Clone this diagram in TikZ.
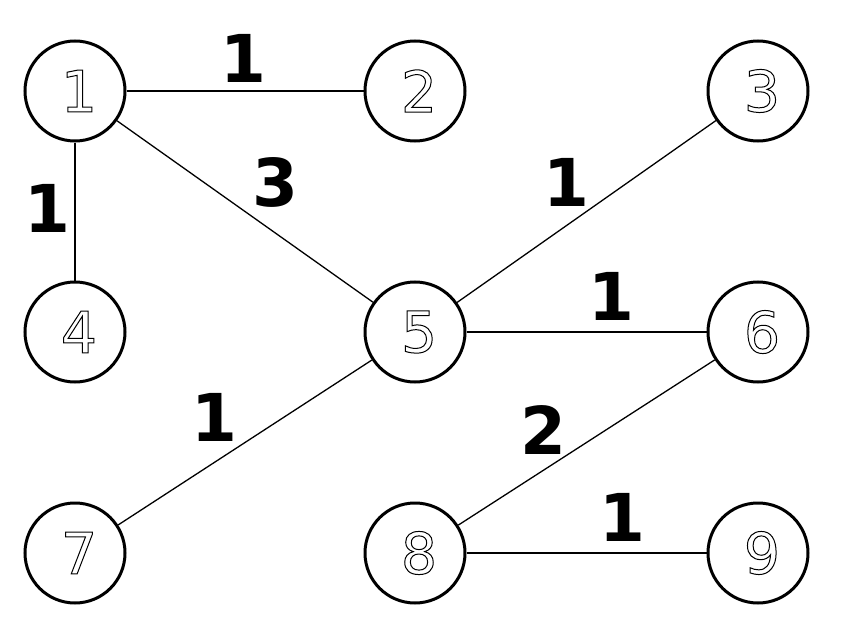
\documentclass[tikz,border=0pt]{standalone}
\usepackage{fontspec}
\setmainfont{DejaVu Sans}
\begin{document}
\begin{tikzpicture}[x=1pt,y=-1pt,
  vtx/.style={circle,draw,line width=3pt,minimum size=100pt,inner sep=0pt,fill=white,
    font=\fontsize{57}{57}\selectfont},
  edge/.style={line width=1.3pt},
  wt/.style={font=\bfseries\fontsize{66}{66}\selectfont,inner sep=0pt}]
\useasboundingbox (0,0) rectangle (844,634);
\newcommand{\olnum}[1]{\hspace*{8pt}\special{pdf:literal direct 2 Tr 1 w 1 g 0 G}#1\special{pdf:literal direct 0 Tr 0 g}}
\node[vtx] (n1) at (75,91) {\olnum{1}};
\node[vtx] (n2) at (415,91) {\olnum{2}};
\node[vtx] (n3) at (758,91) {\olnum{3}};
\node[vtx] (n4) at (75,332) {\olnum{4}};
\node[vtx] (n5) at (415,332) {\olnum{5}};
\node[vtx] (n6) at (758,332) {\olnum{6}};
\node[vtx] (n7) at (75,553) {\olnum{7}};
\node[vtx] (n8) at (415,553) {\olnum{8}};
\node[vtx] (n9) at (758,553) {\olnum{9}};
\draw[edge] (n1) -- (n2);
\draw[edge] (n1) -- (n4);
\draw[edge] (n1) -- (n5);
\draw[edge] (n3) -- (n5);
\draw[edge] (n5) -- (n6);
\draw[edge] (n5) -- (n7);
\draw[edge] (n6) -- (n8);
\draw[edge] (n8) -- (n9);
\node[wt] (w12) at (243,58) {1};
\node[wt] (w14) at (47,208) {1};
\node[wt] (w15) at (275,182) {3};
\node[wt] (w35) at (566,182) {1};
\node[wt] (w56) at (611,296) {1};
\node[wt] (w57) at (214,417) {1};
\node[wt] (w68) at (543,430) {2};
\node[wt] (w89) at (622,517) {1};
\end{tikzpicture}
\end{document}
